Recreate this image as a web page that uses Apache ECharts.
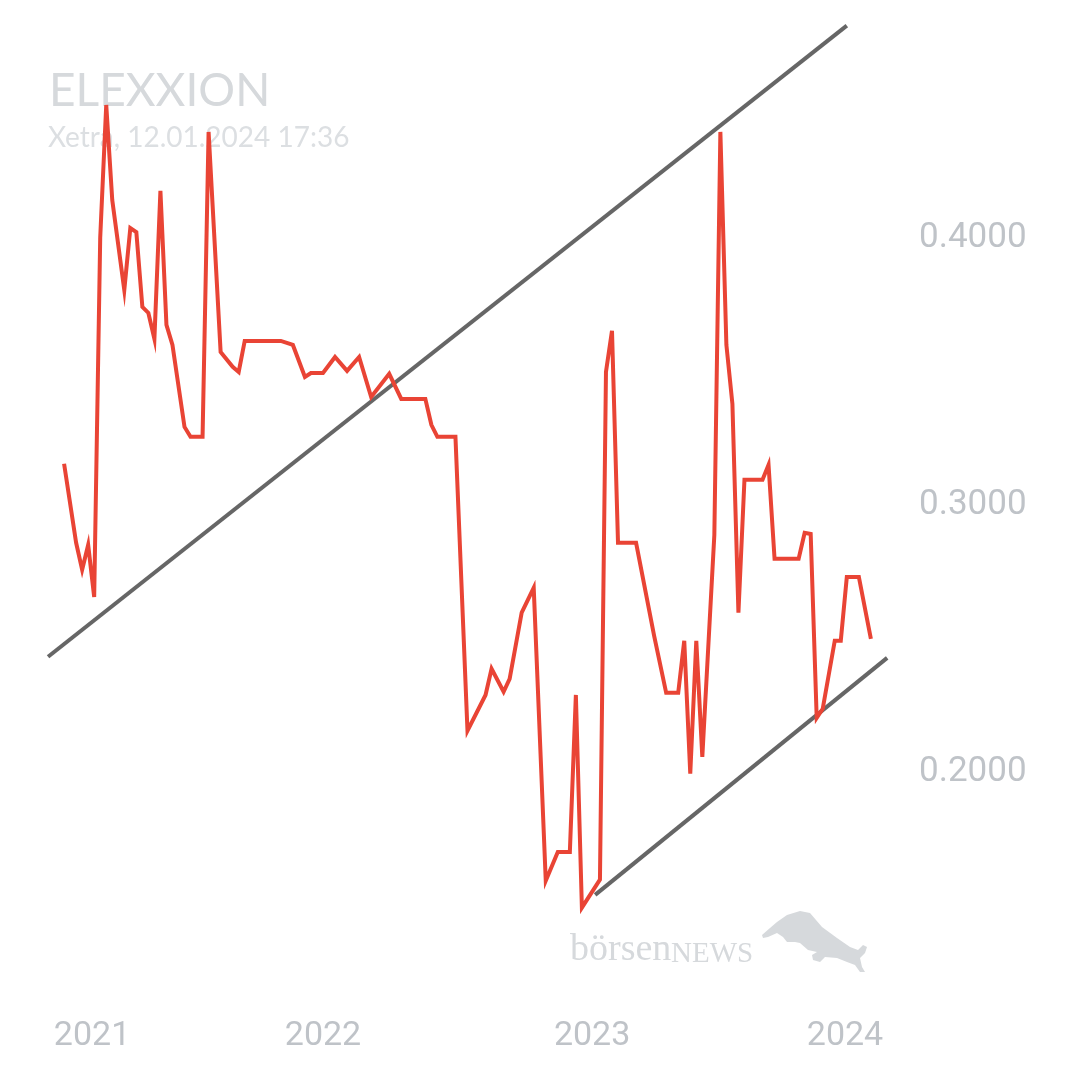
<!DOCTYPE html>
<html>
<head>
<meta charset="utf-8">
<script src="https://cdn.jsdelivr.net/npm/echarts@6/dist/echarts.min.js"></script>
<style>html,body{margin:0;padding:0;background:#fff}#c{width:1080px;height:1080px}</style>
</head>
<body>
<div id="c"></div>
<script>
// trading-week index of each vertex
var weekIdx = [0,2,3,4,5,6,7,8,10,11,12,13,14,15,16,17,18,20,21,23,24,26,28,29,30,36,38,40,41,43,45,47,49,51,54,56,60,61,62,65,67,70,71,73,74,76,78,80,82,84,85,86,89,90,91,92,95,98,100,102,103,104,105,106,108,109,110,111,112,113,116,117,118,122,123,124,125,126,128,129,130,132,134];
var price = [0.3154,0.2858,0.2757,0.2850,0.2655,0.4000,0.4498,0.4142,0.3805,0.4037,0.4022,0.3742,0.3719,0.3622,0.4176,0.3674,0.3599,0.3292,0.3255,0.3255,0.4397,0.3573,0.3517,0.3498,0.3614,0.3614,0.3599,0.3479,0.3494,0.3494,0.3554,0.3502,0.3554,0.3404,0.3491,0.3397,0.3397,0.3300,0.3255,0.3255,0.2154,0.2288,0.2386,0.2300,0.2348,0.2596,0.2689,0.1592,0.1700,0.1700,0.2288,0.1491,0.1596,0.3498,0.3652,0.2858,0.2858,0.2509,0.2296,0.2296,0.2491,0.1993,0.2491,0.2056,0.2888,0.4397,0.3599,0.3378,0.2596,0.3094,0.3094,0.3150,0.2798,0.2798,0.2895,0.2891,0.2202,0.2236,0.2491,0.2491,0.2730,0.2730,0.2498];
// trend channel (start/end)
var upperTrendIdx = [-2.66, 130.0];
var upperTrendVal = [0.2431, 0.4795];
var lowerTrendIdx = [88.2, 136.7];
var lowerTrendVal = [0.1539, 0.2427];
// axis tick labels
var yearLabels = ['2021','2022','2023','2024'];
var yearIdx = [4.65, 43.0, 87.7, 129.7];
var priceTicks = [0.2, 0.3, 0.4];

var lineData = weekIdx.map(function(w,i){return [w, price[i]];});
var upData = upperTrendIdx.map(function(w,i){return [w, upperTrendVal[i]];});
var loData = lowerTrendIdx.map(function(w,i){return [w, lowerTrendVal[i]];});

var chart = echarts.init(document.getElementById('c'), null, {renderer:'canvas'});
var labelColor = '#bfc3c8';
var wm = '#d6d9dc';
chart.setOption({
  animation:false,
  backgroundColor:'#ffffff',
  grid:{left:40, top:11, width:861, height:921, containLabel:false},
  xAxis:{
    type:'value', min:-4, max:139,
    axisLine:{show:false}, axisTick:{show:false}, splitLine:{show:false},
    axisLabel:{
      customValues: yearIdx,
      margin:87, fontSize:34, color:labelColor, fontFamily:'Roboto',
      formatter:function(v){
        for (var i=0;i<yearIdx.length;i++){ if (Math.abs(yearIdx[i]-v)<0.01) return yearLabels[i]; }
        return '';
      }
    }
  },
  yAxis:{
    type:'value', position:'right', min:0.14, max:0.485,
    axisLine:{show:false}, axisTick:{show:false}, splitLine:{show:false},
    axisLabel:{
      customValues: priceTicks,
      margin:18, fontSize:35, color:labelColor, fontFamily:'Roboto',
      padding:[6,0,0,0],
      formatter:function(v){return v.toFixed(4);}
    }
  },
  graphic:[
    {type:'text', left:49, top:68, z:0, style:{text:'ELEXXION', font:'46px Lato', fill:'#d6d9dc'}},
    {type:'text', left:48, top:124, z:0, style:{text:'Xetra, 12.01.2024 17:36', font:'28px Lato', fill:'#dcdfe2'}},
    {type:'text', left:570, top:931, z:0, style:{text:'börsen', font:'38px "Liberation Serif"', fill:wm}},
    {type:'text', left:671, top:940, z:0, style:{text:'NEWS', font:'29px "Liberation Serif"', fill:wm}},
    {type:'polygon', z:0, shape:{points:[[762,935],[770,928],[777,922],[787,915],[800,911],[810,913],[822,927],[837,938],[850,947],[858,950],[863,945],[867,947],[865,953],[860,958],[862,967],[865,972],[860,972],[855,965],[847,962],[837,958],[825,957],[820,962],[813,960],[812,955],[817,952],[808,950],[800,943],[795,942],[787,942],[783,937],[777,933],[768,937],[763,938]]}, style:{fill:wm}}
  ],
  series:[
    {type:'line', data:upData, showSymbol:false, silent:true, z:3, lineStyle:{color:'#666666', width:4}},
    {type:'line', data:loData, showSymbol:false, silent:true, z:3, lineStyle:{color:'#666666', width:4}},
    {type:'line', data:lineData, showSymbol:false, z:4, lineStyle:{color:'#e94435', width:4, join:'miter'}}
  ]
});
</script>
</body>
</html>
